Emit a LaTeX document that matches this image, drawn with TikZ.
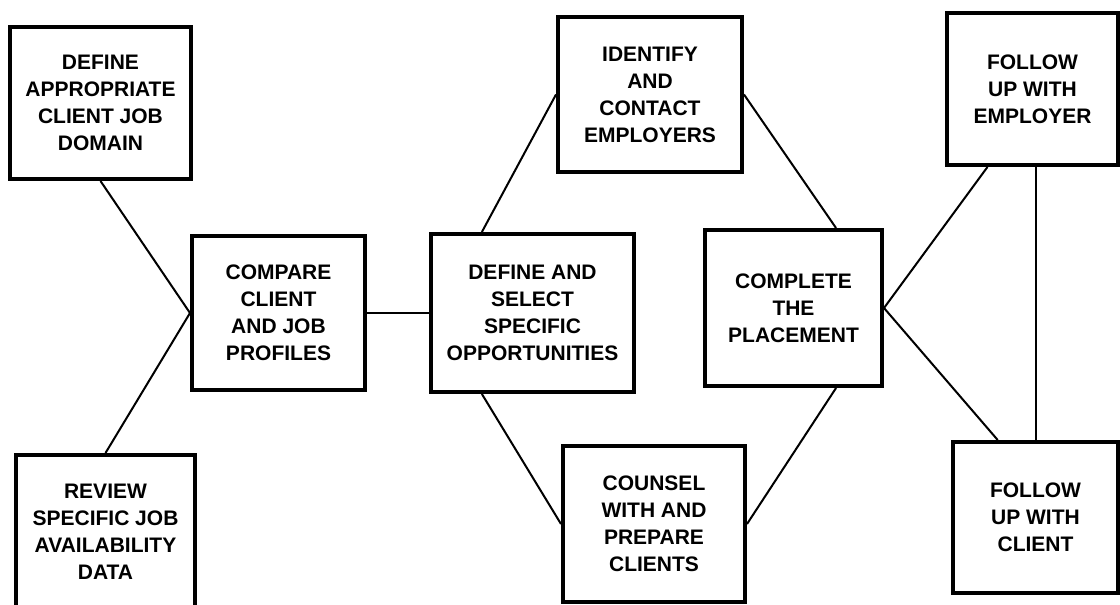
\documentclass[tikz,border=0pt]{standalone}
\usepackage{fontspec}
\setmainfont{Liberation Sans}
\begin{document}
\begin{tikzpicture}[x=1pt,y=-1pt,box/.style={draw,line width=4pt,align=center,inner sep=0pt,font=\fontsize{21}{27}\selectfont\bfseries},link/.style={line width=2pt}]
	\useasboundingbox (0,0) rectangle (1120,605);
	\clip (0,0) rectangle (1120,605);
	% left column
	\node[box,minimum width=181pt,minimum height=152pt] (domain) at (100.5,103) {DEFINE\\APPROPRIATE\\CLIENT JOB\\DOMAIN};
	\node[box,minimum width=179pt,minimum height=154pt] (review) at (105.5,532) {REVIEW\\SPECIFIC JOB\\AVAILABILITY\\DATA};
	\node[box,minimum width=173pt,minimum height=154pt] (compare) at (278.5,313) {COMPARE\\CLIENT\\AND JOB\\PROFILES};
	% middle
	\node[box,minimum width=203pt,minimum height=158pt] (select) at (532.5,313) {DEFINE AND\\SELECT\\SPECIFIC\\OPPORTUNITIES};
	\node[box,minimum width=184pt,minimum height=155pt] (contact) at (650,94.5) {IDENTIFY\\AND\\CONTACT\\EMPLOYERS};
	\node[box,minimum width=182pt,minimum height=156pt] (counsel) at (654,524) {COUNSEL\\WITH AND\\PREPARE\\CLIENTS};
	\node[box,minimum width=177pt,minimum height=156pt] (place) at (793.5,308) {COMPLETE\\THE\\PLACEMENT};
	% right column
	\node[box,minimum width=171pt,minimum height=152pt] (employer) at (1032.5,89) {FOLLOW\\UP WITH\\EMPLOYER};
	\node[box,minimum width=165pt,minimum height=151pt] (client) at (1035.5,517.5) {FOLLOW\\UP WITH\\CLIENT};
	% connectors
	\draw[link] (domain.south) -- (compare.west);
	\draw[link] (review.north) -- (compare.west);
	\draw[link] (compare.east) -- (select.west);
	\draw[link] (select.122) -- (contact.west);
	\draw[link] (select.238) -- (counsel.west);
	\draw[link] (contact.east) -- (place.62);
	\draw[link] (counsel.east) -- (place.298);
	\draw[link] (place.east) -- (employer.240);
	\draw[link] (place.east) -- (client.116);
	\draw[link] (client.north) -- (client.north |- employer.south);
\end{tikzpicture}
\end{document}
